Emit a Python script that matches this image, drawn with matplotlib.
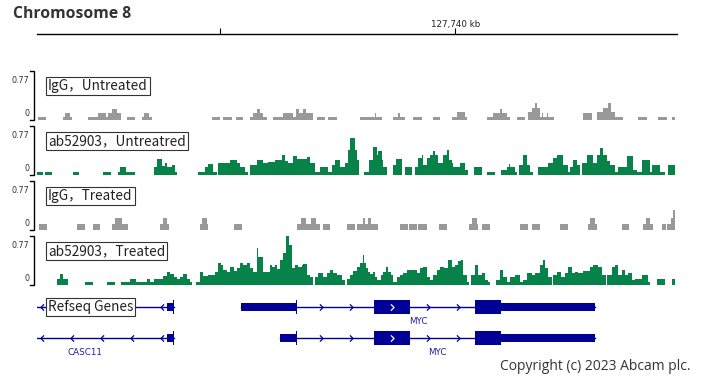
import numpy as np
import matplotlib
matplotlib.use("Agg")
import matplotlib.pyplot as plt
from matplotlib.path import Path

# ---------------- data ----------------
chrom_title = "Chromosome 8"
region_start_kb = 127731.10          # left edge of the view
bin_kb = 1 / 47.0                    # signal resolution (~21 bp per bin)
n_bins = 640
ruler_ticks_kb = [127735, 127740]
ruler_tick_labels = ["", "127,740 kb"]
data_range_max = 0.77

track_names = ["IgG，Untreated", "ab52903，Untreatred", "IgG，Treated", "ab52903，Treated"]
track_colors = ["#999999", "#07834a", "#999999", "#07834a"]

# signal tracks: bin edges (bin index from region start) and signal per interval
igg_untreated_edges = [1, 9, 26, 28, 33, 35, 51, 61, 69, 71, 75, 80, 84, 90, 98, 105, 107, 112, 115, 175,
                       183, 186, 195, 199, 206, 213, 216, 220, 223, 226, 230, 236, 246, 256, 259, 262, 266, 269, 276, 280,
                       288, 291, 300, 323, 338, 339, 345, 356, 361, 363, 368, 376, 385, 396, 403, 415, 420, 428, 430, 450,
                       456, 463, 465, 470, 473, 480, 488, 491, 495, 498, 500, 503, 505, 506, 510, 511, 517, 546, 555, 560,
                       566, 571, 574, 578, 586, 601, 610, 621, 630, 635, 638]
igg_untreated_vals = [.05, 0, .05, .11, .05, 0, .05, .11, .05, .11, .17, .11, 0, .05, 0, .05, .11, .05, 0, .05,
                      0, .05, 0, .05, 0, .05, .11, .17, .11, .05, 0, .05, .11, .05, .17, .11, .17, .11, 0, .05,
                      0, .05, 0, .05, .11, .05, 0, .05, .11, .05, 0, .05, 0, .05, 0, .05, .13, .05, 0, .05,
                      .11, .17, .11, .05, 0, .05, 0, .13, .19, .27, .19, .05, .11, .05, .11, .05, 0, .11, 0, .13,
                      .19, .27, .13, .05, 0, .05, 0, .05, 0, .05]

ab_untreated_edges = [0, 6, 8, 15, 36, 42, 66, 74, 81, 83, 89, 98, 117, 120, 125, 128, 130, 135, 138, 140,
                      161, 168, 171, 176, 180, 181, 193, 200, 203, 208, 211, 213, 220, 226, 231, 238, 245, 248, 251, 256,
                      260, 270, 273, 278, 283, 291, 295, 298, 303, 308, 311, 313, 318, 320, 322, 327, 332, 336, 340, 341,
                      345, 346, 350, 356, 359, 365, 368, 375, 378, 381, 385, 386, 390, 393, 396, 398, 401, 406, 410, 412,
                      415, 416, 423, 428, 431, 437, 445, 450, 458, 464, 470, 472, 473, 478, 480, 482, 486, 490, 493, 496,
                      501, 511, 516, 520, 526, 531, 533, 536, 540, 543, 545, 550, 556, 560, 563, 566, 570, 573, 578, 581,
                      590, 596, 600, 605, 613, 615, 623, 628, 631, 638]
ab_untreated_vals = [.05, 0, .05, 0, .05, 0, .05, 0, .05, .13, .05, 0, .13, .25, .14, .19, .13, .16, .05, 0,
                     .05, .13, .17, .05, 0, .19, .24, .19, .13, .05, 0, .16, .24, .19, .20, .24, .31, .22, .19, .30,
                     .25, .28, .19, .05, .13, .05, .16, .24, .13, .19, .39, .58, .39, .24, 0, .05, .24, .44, .31, .38,
                     .24, .13, 0, .16, .25, 0, .13, 0, .13, .27, .31, .16, .27, .31, .38, .31, .19, .31, .39, .24,
                     .19, .13, .19, .08, 0, .13, 0, .05, 0, .08, .13, .17, .13, .05, 0, .16, .31, .16, .05, 0,
                     .13, .19, .27, .31, .16, .05, .13, .24, .16, 0, .19, .31, .19, .31, .42, .31, .22, .16, .05, .13,
                     .30, .08, .05, .24, .05, .16, .05, 0, .16]

igg_treated_edges = [2, 10, 40, 48, 56, 63, 75, 78, 85, 91, 123, 126, 130, 132, 163, 165, 170, 171, 197, 205,
                     260, 264, 269, 274, 279, 283, 286, 293, 310, 318, 320, 326, 328, 331, 334, 341, 363, 371, 372, 380,
                     381, 390, 402, 410, 432, 435, 440, 441, 445, 453, 483, 491, 495, 503, 523, 531, 551, 553, 558, 560,
                     585, 592, 606, 609, 613, 616, 625, 629, 630, 634, 636, 638]
igg_treated_vals = [.09, 0, .09, 0, .09, 0, .09, .19, .09, 0, .09, .19, .09, 0, .09, .19, .09, 0, .09, 0,
                    .09, .19, .09, .19, .09, 0, .09, 0, .09, 0, .09, .19, .09, .19, .09, 0, .09, 0, .09, 0,
                    .09, 0, .09, 0, .09, .19, .09, 0, .09, 0, .09, 0, .09, 0, .09, 0, .09, .19, .09, 0,
                    .09, 0, .09, .19, .09, 0, .09, 0, .09, .19, .31]

ab_treated_edges = [20, 23, 26, 31, 48, 56, 70, 78, 84, 93, 99, 110, 113, 117, 126, 130, 133, 137, 140, 143,
                    146, 150, 153, 155, 159, 163, 166, 171, 178, 181, 184, 186, 190, 193, 197, 200, 203, 206, 210, 213,
                    216, 220, 221, 226, 230, 233, 235, 238, 240, 243, 246, 249, 252, 255, 258, 261, 265, 266, 270, 273,
                    276, 278, 281, 286, 290, 293, 296, 300, 305, 308, 310, 313, 316, 320, 323, 326, 327, 329, 331, 333,
                    336, 338, 340, 344, 346, 349, 351, 354, 356, 360, 363, 366, 370, 380, 383, 386, 390, 393, 396, 400,
                    403, 407, 411, 415, 418, 421, 424, 426, 430, 432, 434, 438, 441, 445, 448, 451, 453, 459, 463, 466,
                    470, 473, 478, 483, 486, 490, 495, 498, 503, 506, 508, 511, 515, 516, 520, 524, 528, 531, 535, 538,
                    541, 546, 553, 556, 561, 565, 569, 570, 575, 578, 581, 585, 588, 591, 595, 598, 605, 611, 613, 620,
                    628, 635, 638]
ab_treated_vals = [.09, .17, .09, 0, .05, 0, .05, 0, .05, .09, .05, .09, .05, .09, .14, .20, .17, .13, .09, .13,
                   .17, .09, .05, 0, .05, .20, .14, .16, .20, .35, .31, .24, .20, .28, .22, .27, .35, .31, .35, .27,
                   .20, .58, .44, .20, .20, .31, .28, .31, .25, .39, .50, .77, .63, .27, .31, .28, .31, .33, .16, .13,
                   0, .13, .19, .13, .19, .24, .19, .16, .08, 0, .09, .16, .22, .28, .35, .47, .35, .27, .20, .17,
                   .20, .13, .08, .16, .20, .28, .20, .16, .05, .13, .16, .19, .24, .19, .27, .28, .13, .08, .16, .24,
                   .28, .27, .39, .28, .31, .38, .39, .16, .05, 0, .16, .31, .16, .19, .08, .05, 0, .08, .24, .13,
                   .05, .13, .16, .05, .08, .19, .16, .19, .31, .39, .27, .13, 0, .16, .20, .13, .19, .28, .19, .20,
                   .19, .22, .28, .31, .28, .16, 0, .16, .28, .31, .16, .24, .16, .19, .08, .09, .16, .05, 0, .09,
                   0, .09]

track_edges = [igg_untreated_edges, ab_untreated_edges, igg_treated_edges, ab_treated_edges]
track_vals = [igg_untreated_vals, ab_untreated_vals, igg_treated_vals, ab_treated_vals]

# RefSeq transcripts (kb)
tx_name = ["CASC11", "MYC", "CASC11", "MYC"]
tx_row = [0, 0, 1, 1]
tx_strand = ["-", "+", "-", "+"]
tx_start = [127725.00, 127735.45, 127730.23, 127736.27]
tx_end = [127734.01, 127742.97, 127734.01, 127742.97]
cds_start = [127733.99, 127736.62, 127733.99, 127736.62]
cds_end = [127734.01, 127740.97, 127734.01, 127740.97]
exon_starts = [[127733.87], [127735.45, 127738.28, 127740.42],
               [127733.87], [127736.27, 127738.28, 127740.42]]
exon_ends = [[127734.01], [127736.64, 127739.04, 127742.97],
             [127734.01], [127736.64, 127739.04, 127742.97]]
gene_track_name = "Refseq Genes"
copyright_text = "Copyright (c) 2023 Abcam plc."

# ---------------- layout ----------------
W, H = 701, 382
fig = plt.figure(figsize=(W / 100, H / 100), dpi=100)
fig.patch.set_facecolor("white")
X0, X1 = 37, 677
view_lo = region_start_kb
view_hi = region_start_kb + n_bins * bin_kb


def px_axes(x0, y0, x1, y1):
    return fig.add_axes([x0 / W, 1 - y1 / H, (x1 - x0) / W, (y1 - y0) / H])


def fx(px):  # horizontal pixel offset -> axes fraction of a track
    return (px - X0) / (X1 - X0)


label_font = ["Noto Sans CJK SC", "DejaVu Sans"]
box_style = dict(boxstyle="square,pad=0.15", fc="white", ec="#333333", lw=0.8)
label_size = 9.8

fig.text(13 / W, 1 - 13.5 / H, chrom_title, fontsize=11.3, fontweight="bold",
         color="#333333", va="center", ha="left", family=["Open Sans", "DejaVu Sans"])

# ruler
rax = px_axes(X0, 14, X1, 34)
rax.set_xlim(view_lo, view_hi)
rax.set_ylim(0, 1)
for s in ["top", "left", "right"]:
    rax.spines[s].set_visible(False)
rax.spines["bottom"].set_linewidth(1.0)
rax.set_yticks([])
rax.set_xticks(ruler_ticks_kb)
rax.set_xticklabels([])
rax.tick_params(axis="x", direction="in", length=4, width=0.8, color="black")
for t, lab in zip(ruler_ticks_kb, ruler_tick_labels):
    if lab:
        rax.text(t, 0.45, lab, ha="center", va="center", fontsize=6.3, color="#222222")
rax.patch.set_alpha(0)

# signal tracks
tops = [71, 126, 181, 236]
for i in range(4):
    ax = px_axes(X0, tops[i], X1, tops[i] + 49)
    ax.set_xlim(view_lo, view_hi)
    ax.set_ylim(0, data_range_max)
    ax.axis("off")
    edges_kb = region_start_kb + np.asarray(track_edges[i], dtype=float) * bin_kb
    ax.stairs(np.asarray(track_vals[i]), edges_kb, fill=True, color=track_colors[i],
              linewidth=0, baseline=0)
    # data-range bracket
    ax.plot([fx(30), fx(33.5), fx(33.5), fx(30)], [1, 1, 0, 0], transform=ax.transAxes,
            color="black", lw=1.0, clip_on=False, solid_joinstyle="miter")
    ax.text(fx(29.5), 0.80, f"{data_range_max:g}", transform=ax.transAxes, ha="right",
            va="center", fontsize=5.8, color="#333333")
    ax.text(fx(29.5), 0.14, "0", transform=ax.transAxes, ha="right", va="center",
            fontsize=5.8, color="#333333")
    ax.text(fx(48), 0.685, track_names[i], transform=ax.transAxes, ha="left", va="center",
            fontsize=label_size, color="#222222", family=label_font, bbox=box_style, zorder=5)

# gene track
gax = px_axes(X0, 292, X1, 362)
gax.set_xlim(view_lo, view_hi)
gax.set_ylim(1.774, -0.484)
gax.axis("off")
gene_color = "#000096"
utr_h, cds_h = 0.27, 0.48
step_kb = 0.64
chev = Path([(-0.5, 1.0), (0.5, 0.0), (-0.5, -1.0)], [Path.MOVETO, Path.LINETO, Path.LINETO])
chev_rev = Path([(0.5, 1.0), (-0.5, 0.0), (0.5, -1.0)], [Path.MOVETO, Path.LINETO, Path.LINETO])

for k in range(len(tx_name)):
    row = tx_row[k]
    mk = chev if tx_strand[k] == "+" else chev_rev
    gax.plot([tx_start[k], tx_end[k]], [row, row], color=gene_color, lw=1.0, zorder=1)
    ex_s, ex_e = exon_starts[k], exon_ends[k]
    # intron arrows
    for a, b in zip(ex_e[:-1] if len(ex_s) > 1 else [], ex_s[1:]):
        n = int((b - a) // step_kb)
        if n > 0:
            mid = (a + b) / 2
            pos = mid + (np.arange(n) - (n - 1) / 2) * step_kb
            gax.plot(pos, [row] * n, linestyle="none", marker=mk, markersize=4.5,
                     markeredgewidth=0.9, markeredgecolor=gene_color, fillstyle="none", zorder=2)
    if len(ex_s) == 1:  # intron upstream of single visible exon
        a, b = tx_start[k], ex_s[0]
        n = int((b - a) // step_kb)
        pos = b - 0.1 - np.arange(n) * step_kb
        gax.plot(pos, [row] * n, linestyle="none", marker=mk, markersize=4.5,
                 markeredgewidth=0.9, markeredgecolor=gene_color, fillstyle="none", zorder=2)
    for s, e in zip(ex_s, ex_e):
        gax.barh(row, e - s, left=s, height=utr_h, color=gene_color, linewidth=0, zorder=3)
        cs, ce = max(s, cds_start[k]), min(e, cds_end[k])
        if ce > cs:
            gax.barh(row, max(ce - cs, 0.02), left=cs, height=cds_h, color=gene_color,
                     linewidth=0, zorder=3)
            if ce - cs > 0.6:
                gax.plot([(cs + ce) / 2], [row], linestyle="none", marker=mk, markersize=4.5,
                         markeredgewidth=0.9, markeredgecolor="white", fillstyle="none", zorder=4)
    centre = (tx_start[k] + tx_end[k]) / 2
    if view_lo < centre < view_hi:
        gax.text(centre, row + 0.48, tx_name[k], ha="center", va="center",
                 fontsize=6.3, color="#1c1ca8")

gax.text(view_lo + 11 * bin_kb, 0, gene_track_name, ha="left", va="center", fontsize=label_size,
         color="#222222", family=label_font, bbox=box_style, zorder=6)

fig.text(690 / W, 1 - 366 / H, copyright_text, ha="right", va="center", fontsize=10,
         color="#333333", family=["Open Sans", "DejaVu Sans"])

fig.savefig("out.png", dpi=100)
